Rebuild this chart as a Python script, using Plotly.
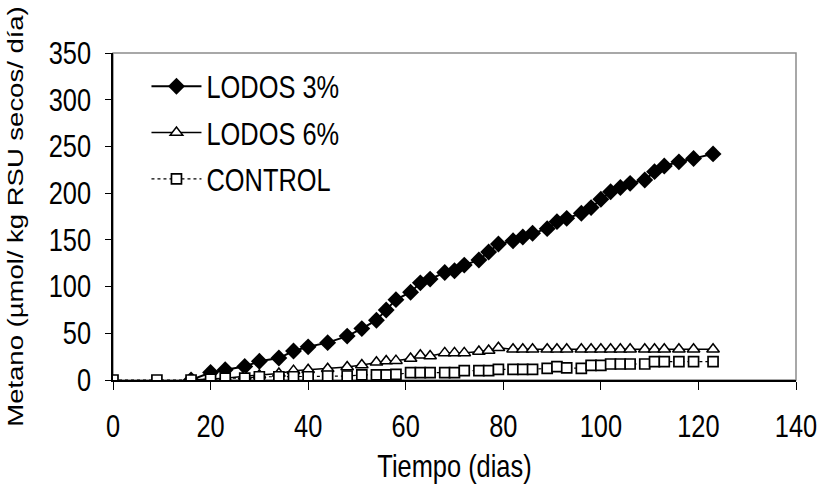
import plotly.graph_objects as go

# Sampling days (shared by all series)
dias = [0, 9, 16, 20, 23, 27, 30, 34, 37, 40, 44, 48, 51, 54, 56, 58, 61, 63, 65,
        68, 70, 72, 75, 77, 79, 82, 84, 86, 89, 91, 93, 96, 98, 100, 102, 104,
        106, 109, 111, 113, 116, 119, 123]

# Methane production, µmol / kg dry MSW / day
lodos_3 = [None, None, 0, 8, 11, 14.5, 20, 23.5, 31, 35.5, 40, 47, 55, 64, 75, 86,
           94, 104, 108, 115, 117, 123, 128.5, 137, 145.5, 149, 153, 157, 162,
           169.5, 173, 178.5, 184.5, 193.5, 201.5, 206, 210.5, 214, 223, 229,
           233.5, 237, 242]
lodos_6 = [None, None, 0, 1, 2, 4, 5, 7, 10, 11, 12, 14, 16, 19, 20.3, 20.7, 23,
           26.5, 25.7, 29, 29, 29, 30.5, 31.5, 34.5, 33, 33, 33, 33, 33, 33, 33,
           33, 33, 33, 33, 33, 33, 33, 33, 33, 33, 33]
control = [0, 0, 0, 1, 2, 2, 3.5, 3.5, 3.5, 3.5, 4.3, 4.3, 5.4, 5.4, 5.4, 6, 7.8,
           7.8, 7.8, 7.8, 7.8, 10, 10, 10, 11.4, 11.4, 11.4, 11.4, 12.5, 14.3, 13,
           12.5, 15.7, 15.7, 17.1, 17.1, 17.1, 17.1, 19.6, 19.6, 19.6, 19.6, 19.6]

x_ticks = [0, 20, 40, 60, 80, 100, 120, 140]
y_ticks = [0, 50, 100, 150, 200, 250, 300, 350]

FONT = "Liberation Sans, Arial, sans-serif"

fig = go.Figure()

fig.add_trace(go.Scatter(
    x=dias, y=lodos_3, name="LODOS 3%", mode="lines+markers", legendgroup="a",
    line=dict(color="black", width=2),
    marker=dict(symbol="diamond", size=13, color="black",
                line=dict(color="black", width=0)),
))
fig.add_trace(go.Scatter(
    x=dias, y=lodos_6, name="LODOS 6%", mode="lines+markers", legendgroup="b",
    line=dict(color="black", width=1.5),
    marker=dict(symbol="triangle-up", size=11, color="white",
                line=dict(color="black", width=1.5)),
))
fig.add_trace(go.Scatter(
    x=dias, y=control, name="CONTROL", mode="lines+markers", legendgroup="c",
    line=dict(color="black", width=1.2, dash="dot"),
    marker=dict(symbol="square", size=10, color="white",
                line=dict(color="black", width=1.7)),
))

# light gray plot-area frame
fig.add_shape(type="rect", xref="paper", yref="paper", x0=0, y0=0, x1=1, y1=1,
              line=dict(color="#8c8c8c", width=1.5), layer="below")

fig.update_layout(
    width=822, height=496,
    margin=dict(l=113, r=26, t=53, b=116, autoexpand=False),
    paper_bgcolor="white", plot_bgcolor="white",
    font=dict(family=FONT, size=31, color="black"),
    showlegend=True,
    legend=dict(x=0.049, y=0.98, xanchor="left", yanchor="top",
                bgcolor="rgba(0,0,0,0)", traceorder="grouped",
                font=dict(family=FONT, size=31), itemwidth=50,
                tracegroupgap=3),
    xaxis=dict(range=[0, 140], tickvals=x_ticks, ticks="outside", ticklen=8,
               tickwidth=1.2, tickcolor="black", showline=True, linecolor="black",
               linewidth=1.5, showgrid=False, zeroline=False,
               ticklabelstandoff=10,
               title=dict(text="Tiempo (dias)", font=dict(family=FONT, size=31),
                          standoff=12)),
    yaxis=dict(range=[0, 350], tickvals=y_ticks, ticks="outside", ticklen=6,
               tickwidth=1.2, tickcolor="black", showline=True, linecolor="black",
               linewidth=1.5, showgrid=False, zeroline=False,
               ticklabelstandoff=8,
               title=dict(text="Metano (µmol/ kg RSU secos/ día)",
                          font=dict(family=FONT, size=27.5), standoff=10)),
)

# Narrow the lettering horizontally (condensed look), keeping each label's anchor.
condense_js = """
var gd = document.querySelectorAll('.js-plotly-plot')[0];
function condense() {
  var k = 0.82;
  var sel = '.xtick text, .ytick text, .legendtext, .g-xtitle text, .g-ytitle text';
  gd.querySelectorAll(sel).forEach(function (t) {
    var cur = t.getAttribute('transform') || '';
    if (t.dataset.sq !== undefined && cur === t.dataset.sq) return;
    var bb = t.getBBox();
    var anchor = t.getAttribute('text-anchor') || 'start';
    var ax = bb.x + bb.width / 2;
    if (anchor === 'start') ax = bb.x;
    if (anchor === 'end') ax = bb.x + bb.width;
    var ay = bb.y + bb.height / 2;
    var rotated = t.closest('.g-ytitle') !== null;
    var sc = rotated ? 'scale(1,' + k + ')' : 'scale(' + k + ',1)';
    var tr = cur + ' translate(' + ax + ',' + ay + ') ' + sc +
             ' translate(' + (-ax) + ',' + (-ay) + ')';
    t.setAttribute('transform', tr);
    t.dataset.sq = t.getAttribute('transform');
  });
}
condense();
gd.on('plotly_afterplot', condense);
setTimeout(condense, 200);
"""

fig.write_html("out.html", post_script=condense_js)
